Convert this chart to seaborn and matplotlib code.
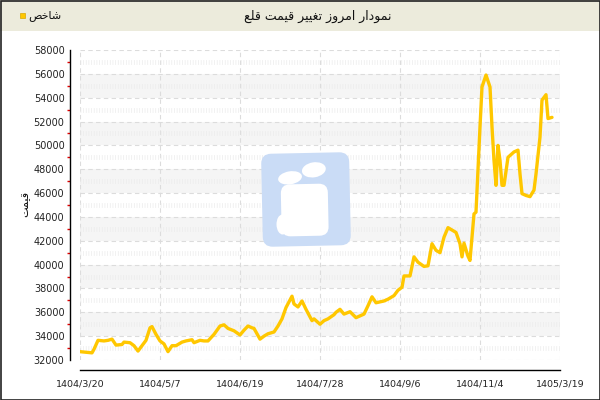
import numpy as np
import pandas as pd
import seaborn as sns
import matplotlib.pyplot as plt
import matplotlib.transforms as mtransforms
from matplotlib.patches import Rectangle, FancyBboxPatch, Ellipse
from matplotlib.ticker import MultipleLocator

title = "نمودار امروز تغییر قیمت قلع"
legend_label = "شاخص"
y_label = "قیمت"

tick_idx = [0, 40, 80, 120, 160, 200, 240]
tick_labels = ["1404/3/20", "1404/5/7", "1404/6/19", "1404/7/28",
               "1404/9/6", "1404/11/4", "1405/3/19"]

# trading-day index and price
day_idx = [0, 6, 7, 9, 12, 14, 16, 18, 21, 22, 25, 27, 29, 31, 33, 35, 36, 38,
           40, 42, 44, 46, 48, 51, 53, 56, 57, 60, 62, 64, 67, 70, 72, 74, 77,
           80, 82, 84, 86, 87, 90, 92, 94, 97, 99, 101, 103, 106, 107, 109,
           111, 113, 116, 117, 120, 122, 124, 127, 128, 130, 132, 135, 138,
           142, 144, 146, 148, 152, 154, 157, 159, 161, 162, 165, 167, 169,
           172, 174, 176, 178, 180, 182, 184, 186, 188, 190, 191, 192, 194,
           195, 197, 198, 200, 201, 203, 205, 206, 207, 208, 209, 210, 211,
           212, 214, 217, 219, 220, 221, 223, 225, 227, 228, 230, 231, 233,
           234, 236]
price = [32700, 32600, 32900, 33650, 33600, 33650, 33750, 33250, 33300, 33500,
         33450, 33200, 32750, 33200, 33650, 34700, 34800, 34150, 33600, 33350,
         32700, 33200, 33200, 33500, 33600, 33700, 33450, 33650, 33600, 33600,
         34150, 34850, 34950, 34650, 34450, 34100, 34500, 34850, 34700, 34650,
         33750, 34000, 34200, 34350, 34850, 35450, 36400, 37350, 36700, 36450,
         36950, 36250, 35300, 35450, 35000, 35300, 35450, 35800, 36000, 36250,
         35850, 36050, 35550, 35850, 36550, 37300, 36800, 36950, 37100, 37400,
         37850, 38100, 39050, 39050, 40650, 40200, 39850, 39900, 41750, 41200,
         41000, 42300, 43100, 42900, 42700, 41750, 40650, 41800, 40700, 40350,
         44250, 44400, 51550, 54900, 55900, 54900, 51550, 48750, 46650, 50000,
         48750, 46650, 46650, 49000, 49450, 49600, 47600, 45950, 45800, 45700,
         46250, 47600, 50700, 53800, 54250, 52250, 52350]

# Arabic/Persian letters -> (isolated, final, initial, medial) presentation forms
FORMS = {
    "ا": ("\uFE8D", "\uFE8E", None, None),
    "د": ("\uFEA9", "\uFEAA", None, None),
    "ر": ("\uFEAD", "\uFEAE", None, None),
    "ز": ("\uFEAF", "\uFEB0", None, None),
    "و": ("\uFEED", "\uFEEE", None, None),
    "ت": ("\uFE95", "\uFE96", "\uFE97", "\uFE98"),
    "خ": ("\uFEA5", "\uFEA6", "\uFEA7", "\uFEA8"),
    "ش": ("\uFEB5", "\uFEB6", "\uFEB7", "\uFEB8"),
    "ص": ("\uFEB9", "\uFEBA", "\uFEBB", "\uFEBC"),
    "ع": ("\uFEC9", "\uFECA", "\uFECB", "\uFECC"),
    "غ": ("\uFECD", "\uFECE", "\uFECF", "\uFED0"),
    "ق": ("\uFED5", "\uFED6", "\uFED7", "\uFED8"),
    "ل": ("\uFEDD", "\uFEDE", "\uFEDF", "\uFEE0"),
    "م": ("\uFEE1", "\uFEE2", "\uFEE3", "\uFEE4"),
    "ن": ("\uFEE5", "\uFEE6", "\uFEE7", "\uFEE8"),
    "ی": ("\uFBFC", "\uFBFD", "\uFBFE", "\uFBFF"),
}


def shape(text):
    out = []
    for i, ch in enumerate(text):
        f = FORMS.get(ch)
        if f is None:
            out.append(ch)
            continue
        prev = text[i - 1] if i > 0 else ""
        nxt = text[i + 1] if i + 1 < len(text) else ""
        jp = prev in FORMS and FORMS[prev][2] is not None
        jn = f[2] is not None and nxt in FORMS
        if jp and jn:
            out.append(f[3])
        elif jp:
            out.append(f[1])
        elif jn:
            out.append(f[2])
        else:
            out.append(f[0])
    return "".join(reversed(out))


sns.set_style("white")
plt.rcParams["font.family"] = ["DejaVu Sans"]

line_color = "#ffc700"
fig = plt.figure(figsize=(6, 4), dpi=100)
# pixel coords with origin at top-left
px = mtransforms.Affine2D().scale(1 / 100, -1 / 100).translate(0, 4) + fig.dpi_scale_trans

# title bar + frame
fig.add_artist(Rectangle((0, 0), 600, 31, transform=px, facecolor="#ecebdc",
                         edgecolor="none", zorder=0))
fig.add_artist(Rectangle((0.5, 0.5), 599, 399, transform=px, fill=False,
                         edgecolor="#222222", lw=1.2, zorder=5))
fig.text(318 / 600, 1 - 16 / 400, shape(title), ha="center", va="center",
         fontsize=9, color="#111111")
fig.add_artist(Rectangle((20, 13), 5, 5, transform=px, facecolor=line_color,
                         edgecolor="#d9a800", lw=0.5))
fig.text(28 / 600, 1 - 16 / 400, shape(legend_label), ha="left", va="center",
         fontsize=8, color="#111111")

ax = fig.add_axes([80 / 600, 40 / 400, 480 / 600, 310 / 400])
ax.set_facecolor("white")

yt = np.arange(32000, 58001, 2000)
for lo in yt[1:-1:2]:
    ax.axhspan(lo, lo + 2000, color="#f5f5f5", lw=0, zorder=0)

# watermark logo
rot = mtransforms.Affine2D().rotate_deg_around(306, 200, -1.2) + px
fig.add_artist(FancyBboxPatch((262, 153), 88, 93, boxstyle="round,pad=0,rounding_size=10",
                              transform=rot, facecolor="#cadcf6", edgecolor="none", zorder=1))
fig.add_artist(Ellipse((290.5, 177.5), 24, 13, angle=-8, transform=rot,
                       facecolor="white", edgecolor="none", zorder=1.1))
fig.add_artist(Ellipse((314.5, 170), 24, 15, angle=-8, transform=rot,
                       facecolor="white", edgecolor="none", zorder=1.1))
fig.add_artist(FancyBboxPatch((281, 184), 47, 52, boxstyle="round,pad=0,rounding_size=9",
                              transform=rot, facecolor="white", edgecolor="none", zorder=1.1))
fig.add_artist(Ellipse((282, 224), 12, 20, transform=rot,
                       facecolor="white", edgecolor="none", zorder=1.1))

df = pd.DataFrame({"idx": day_idx, "price": price})
sns.lineplot(data=df, x="idx", y="price", ax=ax, color=line_color, linewidth=2.4,
             zorder=3)
for l in ax.lines:
    l.set_solid_joinstyle("round")
    l.set_solid_capstyle("round")

ax.set_xlim(0, 240)
ax.set_ylim(32000, 58000)
ax.set_xticks(tick_idx)
ax.set_xticklabels(tick_labels)
ax.set_yticks(yt)
ax.yaxis.set_minor_locator(MultipleLocator(1000))
ax.set_xlabel("")
ax.set_ylabel("")

ax.grid(True, which="major", color="#dcdcdc", lw=0.8, ls=(0, (4, 3)), zorder=1)
ax.grid(True, which="minor", axis="y", color="#ececec", lw=3.5,
        ls=(0, (0.15, 0.4)), zorder=0.5)
ax.set_axisbelow(True)

sns.despine(ax=ax, offset=7.2)
for s in ["left", "bottom"]:
    ax.spines[s].set_color("black")
    ax.spines[s].set_linewidth(1)
ax.tick_params(axis="y", which="major", direction="inout", length=5, width=1,
               color="black", labelsize=7, pad=1.5, labelcolor="#222222")
ax.tick_params(axis="y", which="minor", direction="out", length=2.5, width=1,
               color="#e00000", left=True)
ax.tick_params(axis="x", which="major", direction="out", length=3, width=1,
               color="black", labelsize=6.8, pad=4, labelcolor="#222222")

fig.text(25 / 600, 1 - 204 / 400, shape(y_label), rotation=90, ha="center",
         va="center", fontsize=8, color="#111111")

fig.savefig("out.png", dpi=100)
